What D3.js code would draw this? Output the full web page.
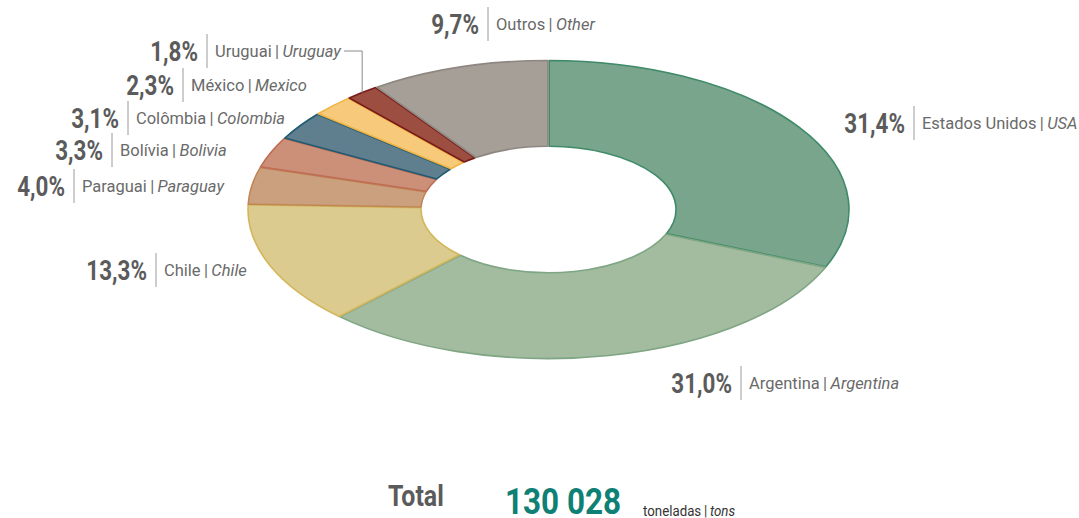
<!DOCTYPE html>
<html>
<head>
<meta charset="utf-8">
<script src="https://cdn.jsdelivr.net/npm/d3@7"></script>
<style>
  body { margin: 0; background: #fff; }
  svg { display: block; font-family: Roboto, "Noto Sans", sans-serif; }
</style>
</head>
<body>
<div id="chart"></div>
<script>
// shares of total, clockwise from 12 o'clock
const namesPt = ["Estados Unidos", "Argentina", "Chile", "Paraguai", "Bolívia", "Colômbia", "México", "Uruguai", "Outros"]
const namesEn = ["USA", "Argentina", "Chile", "Paraguay", "Bolivia", "Colombia", "Mexico", "Uruguay", "Other"]
const shares = [31.4, 31.0, 13.3, 4.0, 3.3, 3.1, 2.3, 1.8, 9.7]
const fills = ["#78a58c", "#a3bb9f", "#dccb8f", "#cba07e", "#cc9079", "#5f7e8e", "#f7c97b", "#9c4f40", "#a59f98"]
const strokes = ["#3f8a68", "#7fa684", "#d4b65a", "#c08656", "#bf6e55", "#1f5a73", "#f0b443", "#7a1b1b", "#8e8781"]
const totalTons = "130 028"

// label layout: x of the little separator bar, vertical centre
const labelPos = [[914, 123], [741, 383], [156, 270], [74, 186], [112, 150], [128, 118], [183, 85], [207, 51], [488, 24]]

const width = 1079, height = 518
const cx = 548.5, cy = 209.5, R = 300.5, r = 127.5, squash = 0.496
const pctCondense = 0.83, nameCondense = 0.97

const svg = d3.select("#chart").append("svg")
    .attr("width", width)
    .attr("height", height)

const pie = d3.pie().sort(null).value(d => d).padAngle(0.004)
const arcs = pie(shares)
const arc = d3.arc().innerRadius(r).outerRadius(R)

// the donut is a circle squashed vertically
const ring = svg.append("g")
    .attr("transform", `translate(${cx},${cy}) scale(1,${squash})`)

ring.selectAll("path.slice")
    .data(arcs).enter().append("path")
    .attr("class", "slice")
    .attr("d", arc)
    .attr("fill", (d, i) => fills[i])
    .attr("stroke", (d, i) => strokes[i])
    .attr("stroke-width", 1.6)
    .attr("stroke-linejoin", "round")
    .attr("vector-effect", "non-scaling-stroke")

const fmt = v => v.toFixed(1).replace(".", ",") + "%"

const labels = svg.selectAll("g.label")
    .data(arcs).enter().append("g")
    .attr("class", "label")

labels.append("line")
    .attr("x1", (d, i) => labelPos[i][0])
    .attr("x2", (d, i) => labelPos[i][0])
    .attr("y1", (d, i) => labelPos[i][1] - 17)
    .attr("y2", (d, i) => labelPos[i][1] + 17)
    .attr("stroke", "#9a9a9a")
    .attr("stroke-width", 1)

labels.append("g")
    .attr("transform", (d, i) => `translate(${labelPos[i][0] - 9},${labelPos[i][1] + 9.5}) scale(${pctCondense},1)`)
    .append("text")
    .attr("text-anchor", "end")
    .attr("font-size", 27)
    .attr("font-weight", 700)
    .attr("fill", "#5b5b5b")
    .text((d, i) => fmt(shares[i]))

const names = labels.append("g")
    .attr("transform", (d, i) => `translate(${labelPos[i][0] + 8},${labelPos[i][1] + 6}) scale(${nameCondense},1)`)
    .append("text")
    .attr("font-size", 17)
    .attr("fill", "#6a6a6a")

names.append("tspan").text((d, i) => namesPt[i] + "\u2009|\u2009")
names.append("tspan").attr("font-style", "italic").text((d, i) => namesEn[i])

// leader for the thin Uruguay slice
const uru = arcs[7]
const midA = (uru.startAngle + uru.endAngle) / 2
const ux = cx + R * Math.sin(midA)
const uy = cy - R * Math.cos(midA) * squash
const nameEnd = names.nodes()[7].getComputedTextLength() * nameCondense + labelPos[7][0] + 8
svg.append("path")
    .attr("d", `M${nameEnd + 3},${labelPos[7][1]} H${ux} V${uy}`)
    .attr("fill", "none")
    .attr("stroke", "#8a8a8a")
    .attr("stroke-width", 1)

// total line at the bottom
svg.append("g")
    .attr("transform", "translate(388,506) scale(0.86,1)")
    .append("text")
    .attr("font-size", 29)
    .attr("font-weight", 700)
    .attr("fill", "#5b5b5b")
    .text("Total")

svg.append("g")
    .attr("transform", "translate(505,514) scale(0.85,1)")
    .append("text")
    .attr("font-size", 37)
    .attr("font-weight", 700)
    .attr("fill", "#0e8074")
    .text(totalTons)

const tons = svg.append("g")
    .attr("transform", "translate(643,516) scale(0.95,1)")
    .append("text")
    .attr("font-size", 14)
    .attr("fill", "#333")
tons.append("tspan").text("toneladas\u2009|\u2009")
tons.append("tspan").attr("font-style", "italic").text("tons")
</script>
</body>
</html>
